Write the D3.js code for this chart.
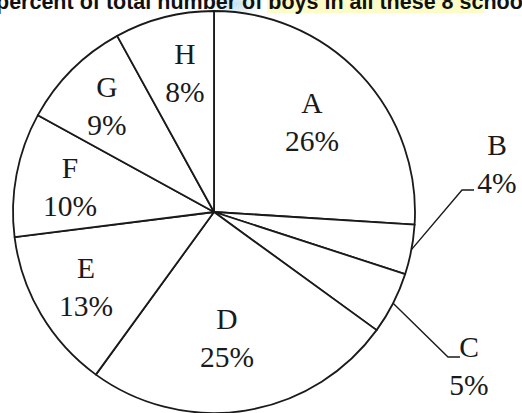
<!DOCTYPE html>
<html>
<head>
<meta charset="utf-8">
<script src="https://cdn.jsdelivr.net/npm/d3@7/dist/d3.min.js"></script>
<style>
  html, body { margin: 0; padding: 0; background: #fff; }
  svg { display: block; }
</style>
</head>
<body>
<svg id="chart" width="522" height="413"></svg>
<script>
// ---- data ----
const categories = ["A", "B", "C", "D", "E", "F", "G", "H"];
const values = [26, 4, 5, 25, 13, 10, 9, 8];
const titleText = "percent of total number of ";
const titleHighlight = "boys in all these 8 schools";

// ---- layout ----
const W = 522, H = 413;
const cx = 214, cy = 212, R = 201;
const labelPos = {
  A: [98, -90], D: [13, 126], E: [-128, 75], F: [-144, -25],
  G: [-107, -106], H: [-29, -139]
};
const outside = {
  B: { elbow: [248, -22], tail: 12, text: [283, -48] },
  C: { elbow: [234, 145], tail: 12, text: [255, 154] }
};

const svg = d3.select("#chart");

// faint watermark blob behind title
const defs = svg.append("defs");
const rg = defs.append("radialGradient").attr("id", "wm");
rg.append("stop").attr("offset", "0%").attr("stop-color", "#b9dcec").attr("stop-opacity", 0.8);
rg.append("stop").attr("offset", "100%").attr("stop-color", "#b9dcec").attr("stop-opacity", 0);
svg.append("ellipse").attr("cx", 236).attr("cy", 4).attr("rx", 26).attr("ry", 16)
  .attr("fill", "url(#wm)");

// title
const title = svg.append("g");
title.append("rect")
  .attr("x", 267).attr("y", 0).attr("width", 217).attr("height", 13)
  .attr("fill", "#fdfcc6");
const t = title.append("text")
  .attr("x", -4).attr("y", 9)
  .attr("font-family", "Liberation Sans, Arial, sans-serif")
  .attr("font-weight", "bold")
  .attr("font-size", 21.5)
  .attr("fill", "#111");
t.append("tspan").text(titleText);
t.append("tspan").text(titleHighlight);

const data = categories.map((c, i) => ({ cat: c, value: values[i] }));
const pie = d3.pie().value(d => d.value).sort(null);
const arcs = pie(data);
const arc = d3.arc().innerRadius(0).outerRadius(R);

const g = svg.append("g").attr("transform", `translate(${cx},${cy})`);

g.selectAll("path.slice")
  .data(arcs)
  .join("path")
  .attr("class", "slice")
  .attr("d", arc)
  .attr("fill", "#fff")
  .attr("stroke", "#1a1a1a")
  .attr("stroke-width", 1.8)
  .attr("stroke-linejoin", "round");

const fontFam = "Liberation Serif, 'Times New Roman', serif";
const fs = 29.5;
const lineGap = 38;

function twoLines(x, y, a) {
  [[a.data.cat, y - lineGap / 2], [a.data.value + "%", y + lineGap / 2]].forEach(([txt, yy]) => {
    g.append("text")
      .attr("x", x).attr("y", yy)
      .attr("text-anchor", "middle")
      .attr("dominant-baseline", "central")
      .attr("font-family", fontFam)
      .attr("font-size", fs)
      .attr("fill", "#1a1a1a")
      .text(txt);
  });
}

arcs.forEach(a => {
  const c = a.data.cat;
  if (labelPos[c]) {
    const [x, y] = labelPos[c];
    twoLines(x, y, a);
  } else if (outside[c]) {
    const o = outside[c];
    const mid = (a.startAngle + a.endAngle) / 2;
    const sx = Math.sin(mid) * R, sy = -Math.cos(mid) * R;
    const path = d3.path();
    path.moveTo(sx, sy);
    path.lineTo(o.elbow[0], o.elbow[1]);
    path.lineTo(o.elbow[0] + o.tail, o.elbow[1]);
    g.append("path").attr("d", path.toString())
      .attr("fill", "none").attr("stroke", "#1a1a1a").attr("stroke-width", 1.4);
    twoLines(o.text[0], o.text[1], a);
  }
});
</script>
</body>
</html>
